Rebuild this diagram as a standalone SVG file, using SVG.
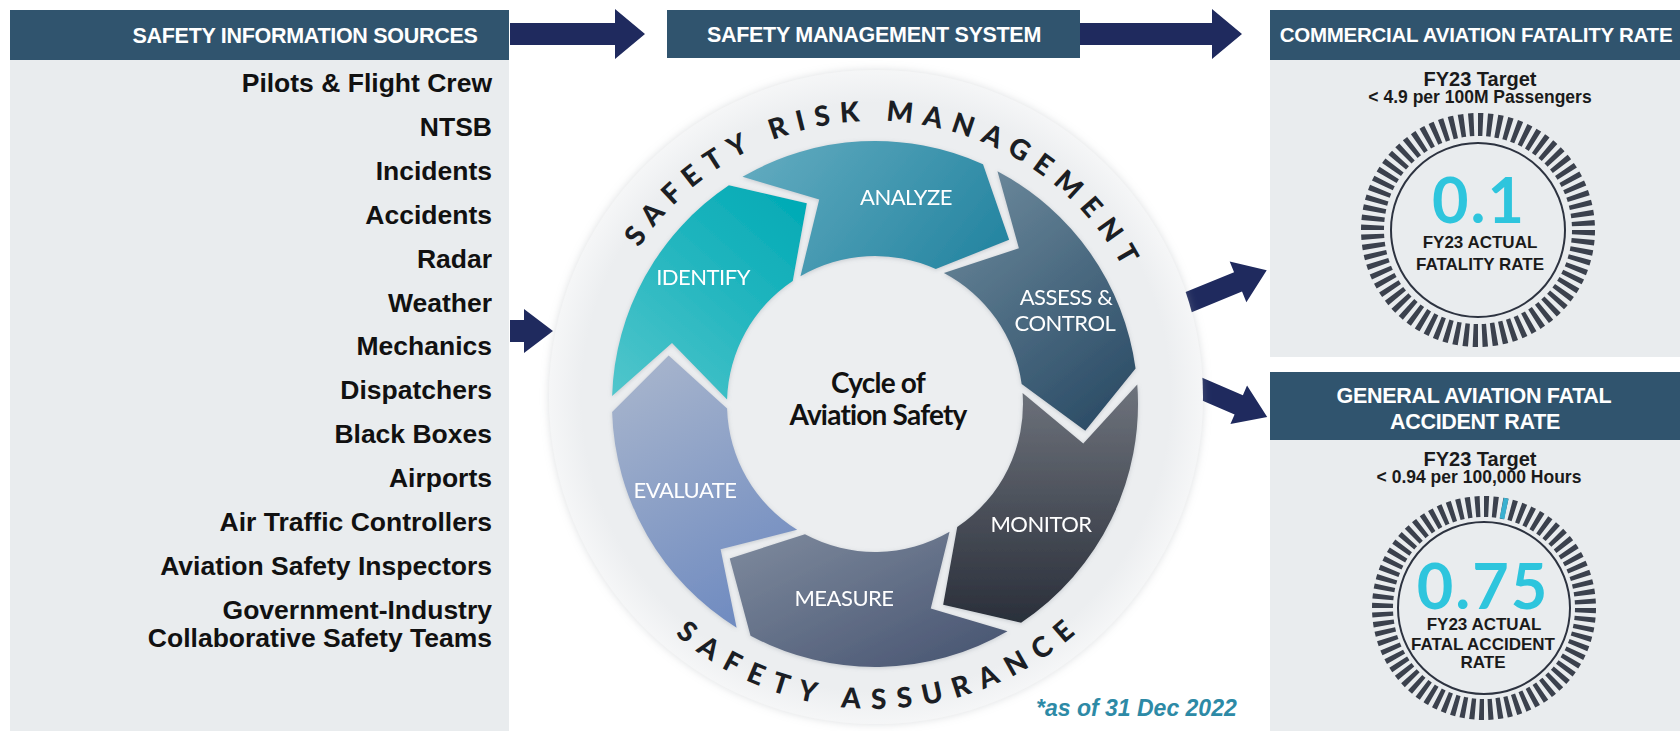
<svg xmlns="http://www.w3.org/2000/svg" width="1680" height="731" viewBox="0 0 1680 731">
<defs>
<style>
.hdr{fill:#30546e}
.hdrt{font-family:"Liberation Sans",Arial,sans-serif;font-weight:700;font-size:21.5px;fill:#fff;letter-spacing:-0.3px;text-anchor:middle}
.hdrs{font-family:"Liberation Sans",Arial,sans-serif;font-weight:700;font-size:20.5px;fill:#fff;letter-spacing:-0.25px;text-anchor:middle}
.panel{fill:#e9ecee}
.src{font-family:"Liberation Sans",Arial,sans-serif;font-weight:700;font-size:26.5px;fill:#111;text-anchor:end}
.arrow{fill:#1f2a5e}
.seg{font-family:Lato,"Open Sans",sans-serif;font-size:22px;fill:#fff;text-anchor:middle;letter-spacing:-0.5px}
.arc{font-family:Lato,"Open Sans",sans-serif;font-weight:900;font-size:28px;fill:#1b1e24}
.ctr{font-family:Lato,"Open Sans",sans-serif;font-weight:700;font-size:28px;fill:#111;text-anchor:middle;letter-spacing:-0.8px}
.gt{font-family:"Liberation Sans",Arial,sans-serif;font-weight:700;fill:#1a1a1a;text-anchor:middle}
.big{font-family:Lato,"Open Sans",sans-serif;font-weight:700;font-size:63px;fill:#2ec5dd;text-anchor:middle;letter-spacing:2px}
.ticks{fill:none;stroke:#3b414d}
.gring{fill:none;stroke:#2d3340;stroke-width:2}
.note{font-family:"Liberation Sans",Arial,sans-serif;font-weight:700;font-style:italic;font-size:23px;fill:#2d8aa6}
</style>
<linearGradient id="gID" x1="0" y1="1" x2="0.8" y2="0"><stop offset="0" stop-color="#52c6cc"/><stop offset="1" stop-color="#04abb6"/></linearGradient>
<linearGradient id="gAN" x1="0" y1="0.3" x2="1" y2="0.7"><stop offset="0" stop-color="#5fa9be"/><stop offset="1" stop-color="#2585a1"/></linearGradient>
<linearGradient id="gAS" x1="0.2" y1="0" x2="0.8" y2="1"><stop offset="0" stop-color="#6b889b"/><stop offset="1" stop-color="#2b4c66"/></linearGradient>
<linearGradient id="gMO" x1="0.5" y1="0" x2="0.5" y2="1"><stop offset="0" stop-color="#6e737c"/><stop offset="1" stop-color="#2a2f3a"/></linearGradient>
<linearGradient id="gME" x1="0" y1="0" x2="1" y2="1"><stop offset="0" stop-color="#7f8b9e"/><stop offset="1" stop-color="#45526f"/></linearGradient>
<linearGradient id="gEV" x1="0.3" y1="0" x2="0.7" y2="1"><stop offset="0" stop-color="#a5b3cc"/><stop offset="1" stop-color="#6e8ac0"/></linearGradient>
<radialGradient id="gDisc" cx="0.5" cy="0.5" r="0.5"><stop offset="0.9" stop-color="#eceef0"/><stop offset="1" stop-color="#f5f6f7"/></radialGradient>
<filter id="sh" x="-10%" y="-10%" width="120%" height="120%"><feDropShadow dx="0" dy="1" stdDeviation="2" flood-color="#7d8590" flood-opacity="0.35"/></filter>
<filter id="dsh" x="-5%" y="-5%" width="110%" height="110%"><feDropShadow dx="0" dy="0" stdDeviation="4" flood-color="#9aa1a8" flood-opacity="0.35"/></filter>
<path id="topArc" d="M592 404 A283 283 0 0 1 1158 404"/>
<path id="botArc" d="M570 404 A305 305 0 0 0 1180 404"/>
</defs>
<rect width="1680" height="731" fill="#fff"/>

<g id="sources">
<rect class="panel" x="10" y="60" width="499" height="671"/>
<rect class="hdr" x="10" y="10" width="499" height="50"/>
<text class="hdrt" x="305" y="43">SAFETY INFORMATION SOURCES</text>
<text class="src" x="492" y="92">Pilots &amp; Flight Crew</text>
<text class="src" x="492" y="136">NTSB</text>
<text class="src" x="492" y="180">Incidents</text>
<text class="src" x="492" y="224">Accidents</text>
<text class="src" x="492" y="268">Radar</text>
<text class="src" x="492" y="312">Weather</text>
<text class="src" x="492" y="355">Mechanics</text>
<text class="src" x="492" y="399">Dispatchers</text>
<text class="src" x="492" y="443">Black Boxes</text>
<text class="src" x="492" y="487">Airports</text>
<text class="src" x="492" y="531">Air Traffic Controllers</text>
<text class="src" x="492" y="575">Aviation Safety Inspectors</text>
<text class="src" x="492" y="619">Government-Industry</text>
<text class="src" x="492" y="647">Collaborative Safety Teams</text>
</g>

<g id="sms-header">
<rect class="hdr" x="667" y="10" width="413" height="48"/>
<text class="hdrt" x="874" y="42">SAFETY MANAGEMENT SYSTEM</text>
</g>

<g id="connectors">
<path class="arrow" d="M510 23 H615 V9 L645 34 L615 59 V45 H510 Z"/>
<path class="arrow" d="M1080 23 H1212 V9 L1242 34 L1212 59 V45 H1080 Z"/>
<path class="arrow" d="M510 320 H524 V309 L553 331 L524 353 V342 H510 Z"/>
<path class="arrow" transform="translate(1189 302) rotate(-22.3)" d="M-6 -10.5 H53 V-22 L84 0 L53 22 V10.5 H-6 Z"/>
<path class="arrow" transform="translate(1202 389) rotate(23.3)" d="M-8 -10.5 H40 V-21 L71 0 L40 21 V10.5 H-8 Z"/>
</g>

<g id="cycle">
<circle cx="876" cy="397" r="327" fill="url(#gDisc)" filter="url(#dsh)"/>
<g id="identify" filter="url(#sh)">
<path fill="url(#gID)" d="M612.12 395.97 A263 263 0 0 1 728.89 185.32 L806.85 203.25 L792.78 280.94 A148 148 0 0 0 727.07 399.48 L672 342.9 Z"/>
<text class="seg" x="703" y="285">IDENTIFY</text>
</g>
<g id="analyze" filter="url(#sh)">
<path fill="url(#gAN)" d="M742.51 176.81 A263 263 0 0 1 983.02 164.21 L1009.13 239.83 L935.79 269.06 A148 148 0 0 0 800.44 276.15 L819.24 199.46 Z"/>
<text class="seg" x="906" y="205">ANALYZE</text>
</g>
<g id="assess" filter="url(#sh)">
<path fill="url(#gAS)" d="M997.46 171.25 A263 263 0 0 1 1135.6 368.53 L1085.3 430.75 L1021.65 384.04 A148 148 0 0 0 943.91 273.02 L1018.91 248.32 Z"/>
<text class="seg" x="1066" y="305">ASSESS &amp;</text>
<text class="seg" x="1065" y="331">CONTROL</text>
</g>
<g id="monitor" filter="url(#sh)">
<path fill="url(#gMO)" d="M1137.28 384.51 A263 263 0 0 1 1021.11 622.68 L943.15 604.75 L957.22 527.06 A148 148 0 0 0 1022.59 393.03 L1083.28 443.54 Z"/>
<text class="seg" x="1041" y="532">MONITOR</text>
</g>
<g id="measure" filter="url(#sh)">
<path fill="url(#gME)" d="M1007.49 631.19 A263 263 0 0 1 750.52 635.67 L729.74 558.41 L804.95 534.37 A148 148 0 0 0 949.56 531.85 L930.76 608.54 Z"/>
<text class="seg" x="844" y="606">MEASURE</text>
</g>
<g id="evaluate" filter="url(#sh)">
<path fill="url(#gEV)" d="M736.61 627.64 A263 263 0 0 1 612.12 412.03 L668.65 355.41 L727.07 408.52 A148 148 0 0 0 797.12 529.85 L720.59 549.26 Z"/>
<text class="seg" x="685" y="498">EVALUATE</text>
</g>
<text class="arc" letter-spacing="9.5"><textPath href="#topArc" startOffset="460" text-anchor="middle">SAFETY RISK MANAGEMENT</textPath></text>
<text class="arc" letter-spacing="11"><textPath href="#botArc" startOffset="485" text-anchor="middle">SAFETY ASSURANCE</textPath></text>
<text class="ctr" x="878" y="393">Cycle of</text>
<text class="ctr" x="878" y="425">Aviation Safety</text>
</g>

<g id="commercial">
<rect class="panel" x="1270" y="60" width="410" height="297"/>
<rect class="hdr" x="1270" y="10" width="410" height="50"/>
<text class="hdrs" x="1476" y="42">COMMERCIAL AVIATION FATALITY RATE</text>
<text class="gt" x="1480" y="86" font-size="20">FY23 Target</text>
<text class="gt" x="1480" y="103" font-size="17.5">&lt; 4.9 per 100M Passengers</text>
<circle class="ticks" cx="1478" cy="230" r="105.5" stroke-width="23" pathLength="360" stroke-dasharray="2.7 2.3"/>
<circle class="gring" cx="1478" cy="230" r="87"/>
<text class="big" x="1479" y="223">0.1</text>
<text class="gt" x="1480" y="248" font-size="17">FY23 ACTUAL</text>
<text class="gt" x="1480" y="270" font-size="17">FATALITY RATE</text>
</g>

<g id="general">
<rect class="panel" x="1270" y="440" width="410" height="291"/>
<rect class="hdr" x="1270" y="372" width="410" height="68"/>
<text class="hdrt" x="1474" y="403">GENERAL AVIATION FATAL</text>
<text class="hdrt" x="1475" y="429">ACCIDENT RATE</text>
<text class="gt" x="1480" y="466" font-size="20">FY23 Target</text>
<text class="gt" x="1479" y="483" font-size="17.5">&lt; 0.94 per 100,000 Hours</text>
<circle class="ticks" cx="1484" cy="608" r="101.5" stroke-width="21" pathLength="360" stroke-dasharray="2.7 2.3"/>
<line x1="1501.99" y1="518.8" x2="1506.14" y2="498.21" stroke="#3ab0d0" stroke-width="4.8"/>
<circle class="gring" cx="1484" cy="608" r="86"/>
<text class="big" x="1483" y="609">0.75</text>
<text class="gt" x="1484" y="630" font-size="17">FY23 ACTUAL</text>
<text class="gt" x="1483" y="650" font-size="17">FATAL ACCIDENT</text>
<text class="gt" x="1483" y="668" font-size="17">RATE</text>
</g>

<text class="note" x="1036" y="716">*as of 31 Dec 2022</text>
</svg>
